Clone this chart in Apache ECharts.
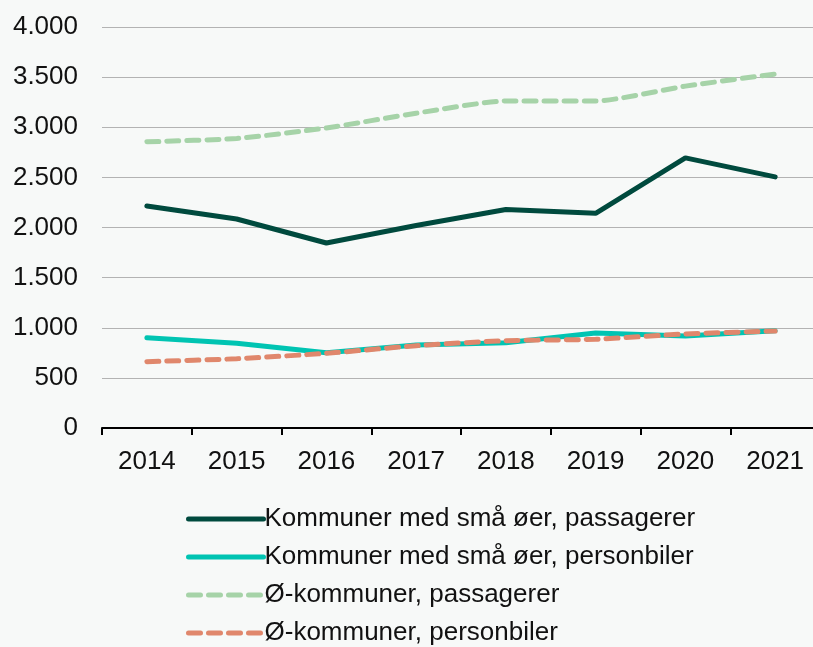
<!DOCTYPE html>
<html>
<head>
<meta charset="utf-8">
<script src="https://cdn.jsdelivr.net/npm/echarts@6/dist/echarts.min.js"></script>
<style>
  html, body { margin: 0; padding: 0; background: #f7f9f8; }
  #chart { width: 813px; height: 647px; }
</style>
</head>
<body>
<div id="chart"></div>
<script>
const years = ["2014", "2015", "2016", "2017", "2018", "2019", "2020", "2021"];
const smaaPassagerer = [2215, 2085, 1845, 2020, 2180, 2142, 2695, 2505];
const smaaPersonbiler = [900, 845, 751, 828, 851, 948, 918, 970];
const oePassagerer = [2855, 2888, 2993, 3140, 3262, 3262, 3410, 3531];
const oePersonbiler = [661, 691, 745, 821, 871, 885, 938, 967];

const fontFamily = "'Liberation Sans', Arial, sans-serif";

const chart = echarts.init(document.getElementById("chart"));

function lineSeries(name, data, color, dashed) {
  return {
    name: name,
    type: "line",
    data: data,
    symbol: "none",
    smooth: dashed ? 0.2 : false,
    lineStyle: {
      color: color,
      width: 5,
      type: dashed ? [12, 8] : "solid",
      cap: "round"
    },
    itemStyle: { color: color }
  };
}

chart.setOption({
  backgroundColor: "#f7f9f8",
  animation: false,
  grid: { left: 102, width: 718, top: 27, height: 401, outerBoundsMode: "none", containLabel: false },
  xAxis: {
    type: "category",
    data: years,
    axisLine: { lineStyle: { color: "#000", width: 2 } },
    axisTick: { show: true, interval: 0, length: 7, lineStyle: { color: "#000", width: 2 } },
    axisLabel: { color: "#111", fontSize: 26, fontFamily: fontFamily, margin: 21 }
  },
  yAxis: {
    type: "value",
    min: 0,
    max: 4000,
    interval: 500,
    axisLine: { show: false },
    axisTick: { show: false },
    splitLine: { lineStyle: { color: "#b3b3b3", width: 1 } },
    axisLabel: {
      color: "#111",
      fontSize: 26,
      fontFamily: fontFamily,
      margin: 24,
      formatter: v => v.toLocaleString("de-DE")
    }
  },
  legend: {
    orient: "vertical",
    left: 181,
    top: 501,
    height: 200,
    itemWidth: 75,
    itemHeight: 5,
    itemGap: 12,
    itemStyle: { opacity: 0 },
    lineStyle: { width: 5 },
    textStyle: { color: "#111", fontSize: 26, fontFamily: fontFamily, padding: [0, 0, 0, -4] },
    data: [
      "Kommuner med små øer, passagerer",
      "Kommuner med små øer, personbiler",
      "Ø-kommuner, passagerer",
      "Ø-kommuner, personbiler"
    ]
  },
  series: [
    lineSeries("Kommuner med små øer, passagerer", smaaPassagerer, "#004a3e", false),
    lineSeries("Kommuner med små øer, personbiler", smaaPersonbiler, "#00c4b2", false),
    lineSeries("Ø-kommuner, passagerer", oePassagerer, "#a6d3a8", true),
    lineSeries("Ø-kommuner, personbiler", oePersonbiler, "#e0876c", true)
  ]
});
</script>
</body>
</html>
